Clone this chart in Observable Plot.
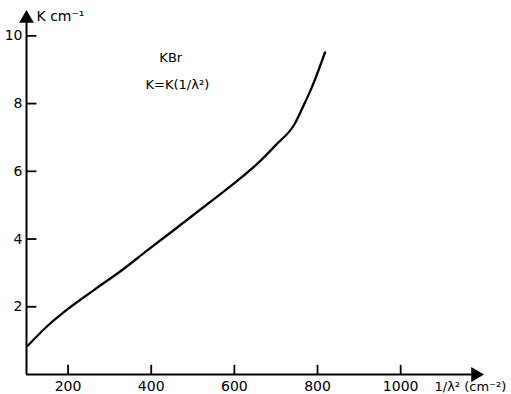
<!DOCTYPE html>
<html>
<head>
<meta charset="utf-8">
<script src="https://cdn.jsdelivr.net/npm/d3@7"></script>
<script src="https://cdn.jsdelivr.net/npm/@observablehq/plot@0.6"></script>
<style>
  html, body { margin: 0; padding: 0; background: #fff; }
  #chart svg { display: block; }
</style>
</head>
<body>
<div id="chart"></div>
<script>
// Curve K(1/λ²) for KBr
const invLambda2 = [103, 151, 199, 263, 335, 389, 457, 537, 617, 660, 700, 746, 766, 786, 818];
const kValues    = [0.85, 1.44, 1.93, 2.50, 3.13, 3.65, 4.29, 5.05, 5.82, 6.28, 6.78, 7.42, 7.93, 8.47, 9.51];

// Axes
const xTicks = [200, 400, 600, 800, 1000];
const yTicks = [2, 4, 6, 8, 10];
const xDomain = [100, 1192];
const yDomain = [0, 10.66];
const xLabel = "1/λ² (cm⁻²)";
const yLabel = "K cm⁻¹";

// Annotations
const noteText = ["KBr", "K=K(1/λ²)"];
const noteX = [447, 463];
const noteY = [9.36, 8.56];

const data = invLambda2.map((x, i) => ({x, k: kValues[i]}));
const notes = noteText.map((t, i) => ({t, x: noteX[i], y: noteY[i]}));

const font = "DejaVu Sans, sans-serif";

const chart = Plot.plot({
  width: 511,
  height: 394,
  marginLeft: 26,
  marginRight: 31,
  marginTop: 13,
  marginBottom: 20,
  style: {fontFamily: font, fontSize: "14px", color: "#000", background: "#fff"},
  x: {type: "linear", domain: xDomain, axis: null},
  y: {type: "linear", domain: yDomain, axis: null},
  marks: [
    // axis lines
    Plot.ruleY([yDomain[0]], {y: d => d, x1: xDomain[0], x2: xDomain[1], stroke: "#000", strokeWidth: 2}),
    Plot.ruleX([xDomain[0]], {x: d => d, y1: yDomain[0], y2: yDomain[1], stroke: "#000", strokeWidth: 2}),
    // arrowheads
    Plot.dot([0], {x: xDomain[0], y: yDomain[1], symbol: "triangle", r: 5.5, fill: "#000", stroke: "none", dy: 5}),
    Plot.dot([0], {x: xDomain[1], y: yDomain[0], symbol: "triangle", rotate: 90, r: 5.5, fill: "#000", stroke: "none", dx: -5}),
    // ticks
    Plot.ruleX(xTicks, {x: d => d, y1: yDomain[0], y2: yDomain[0] + 0.27, stroke: "#000", strokeWidth: 1.8}),
    Plot.ruleY(yTicks, {y: d => d, x1: xDomain[0], x2: xDomain[0] + 25, stroke: "#000", strokeWidth: 1.8}),
    // tick labels
    Plot.text(xTicks, {x: d => d, y: yDomain[0], text: d => String(d), dy: 12, fontSize: 14, fill: "#000"}),
    Plot.text(yTicks, {x: xDomain[0], y: d => d, text: d => String(d), dx: -4, textAnchor: "end", fontSize: 14, fill: "#000"}),
    // axis labels
    Plot.text([yLabel], {x: xDomain[0], y: yDomain[1], text: d => d, dx: 10, dy: 3, textAnchor: "start", fontSize: 14, fill: "#000"}),
    Plot.text([xLabel], {x: xDomain[1], y: yDomain[0], text: d => d, dx: -46, dy: 12, textAnchor: "start", fontSize: 13, fill: "#000"}),
    // annotations
    Plot.text(notes, {x: "x", y: "y", text: "t", fontSize: 13, fill: "#000"}),
    // the curve
    Plot.line(data, {x: "x", y: "k", curve: "monotone-x", stroke: "#000", strokeWidth: 2.3})
  ]
});
document.getElementById("chart").appendChild(chart);
</script>
</body>
</html>
